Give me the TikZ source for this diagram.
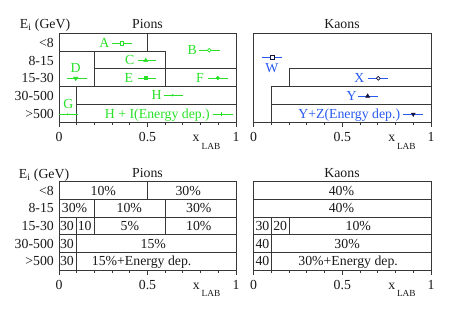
\documentclass[tikz,border=0pt]{standalone}
\usepackage{fontspec}
\setmainfont{Liberation Serif}
\definecolor{pgreen}{RGB}{40,225,40}
\definecolor{kblue}{RGB}{40,90,240}
\definecolor{frame}{RGB}{55,55,55}
\definecolor{ink}{RGB}{25,25,25}
\definecolor{kmark}{RGB}{20,20,60}
\tikzset{
  txt/.style={font=\fontsize{13.8bp}{15bp}\selectfont, text height=9.2bp, text depth=0pt, inner sep=0pt, text=ink},
  xl/.style={font=\fontsize{13.8bp}{15bp}\selectfont, inner sep=0pt, anchor=base, text=ink},
  subl/.style={font=\fontsize{9.3bp}{10bp}\selectfont, inner sep=0pt, anchor=base, text=ink},
  frm/.style={draw=frame, line width=0.9bp},
  ebar/.style={line width=0.9bp},
  msqo/.pic={\draw[line width=0.7bp, fill=white] (-1.8bp,-1.8bp) rectangle (1.8bp,1.8bp);},
  msqf/.pic={\filldraw[line width=0.5bp] (-1.7bp,-1.7bp) rectangle (1.7bp,1.7bp);},
  mcio/.pic={\draw[line width=0.7bp, fill=white] (0,0) circle (1.9bp);},
  mcif/.pic={\filldraw[line width=0.5bp] (0,0) circle (1.8bp);},
  mcis/.pic={\fill (0,0) circle (1.3bp);},
  mdot/.pic={\fill (0,0) circle (1.1bp);},
  mtru/.pic={\filldraw[line width=0.5bp] (-2bp,-1.3bp) -- (2bp,-1.3bp) -- (0,2.1bp) -- cycle;},
  mtrd/.pic={\filldraw[line width=0.5bp] (-2bp,1.3bp) -- (2bp,1.3bp) -- (0,-2.1bp) -- cycle;},
  mplus/.pic={\draw[line width=0.7bp] (-2bp,0) -- (2bp,0) (0,-2bp) -- (0,2bp);},
}
\begin{document}
\begin{tikzpicture}[x=1bp,y=-1bp]
\useasboundingbox (0,0) rectangle (449,311);
% ---------------- headers ----------------
\node[txt] (eitop) at (45,24) {E\textsubscript{i} (GeV)};
\node[txt] (piontop) at (147.5,24) {Pions};
\node[txt] (kaontop) at (342,24) {Kaons};
\node[txt] (eibot) at (44,173.5) {E\textsubscript{i} (GeV)};
\node[txt] (pionbot) at (147.5,172.7) {Pions};
\node[txt] (kaonbot) at (342,172.7) {Kaons};
% row labels top
\node[txt, anchor=east] (rt1) at (54,42.7) {<8};
\node[txt, anchor=east] (rt2) at (54,60.5) {8-15};
\node[txt, anchor=east] (rt3) at (54,78.3) {15-30};
\node[txt, anchor=east] (rt4) at (54,96) {30-500};
\node[txt, anchor=east] (rt5) at (54,113.6) {>500};
% row labels bottom
\node[txt, anchor=east] (rb1) at (54,190.5) {<8};
\node[txt, anchor=east] (rb2) at (54,208.2) {8-15};
\node[txt, anchor=east] (rb3) at (54,225.8) {15-30};
\node[txt, anchor=east] (rb4) at (54,243.5) {30-500};
\node[txt, anchor=east] (rb5) at (54,261.1) {>500};

% ================= TOP LEFT (pions) =================
\begin{scope}[xshift=59bp, x=177bp]
 \draw[frm] (0,33.3) rectangle (1,122.3);
 \draw[frm] (0.5,33.3) -- (0.5,51.1) (0,51.1) -- (0.6,51.1)
   (0.2,51.1) -- (0.2,86.7) (0.6,51.1) -- (0.6,86.7)
   (0.2,68.9) -- (1,68.9) (0,86.7) -- (1,86.7)
   (0.1,86.7) -- (0.1,122.3) (0.1,104.5) -- (1,104.5);
 \foreach \t in {0.1,0.2,0.3,0.4,0.6,0.7,0.8,0.9} \draw[frm] (\t,122.3) -- ++(0,3);
 \foreach \t in {0,0.5,1} \draw[frm] (\t,122.3) -- ++(0,5);
 \node[xl] (tla0) at (0,141.3) {0};
 \node[xl] (tla5) at (0.5,141.3) {0.5};
 \node[xl] (tla1) at (1,141.3) {1};
 \node[xl] (tlx) at (0.774,141.3) {x};
 \node[subl] (tlsub) at (0.859,149) {LAB};
 % entries
 \begin{scope}[pgreen]
 \node[txt, text=pgreen] (A) at (0.256,42.9) {A};
 \draw[ebar] (0.30,43.3) -- (0.415,43.3); \pic at (0.354,43.3) {msqo};
 \node[txt, text=pgreen] (B) at (0.753,50.2) {B};
 \draw[ebar] (0.793,50.3) -- (0.91,50.3); \pic at (0.849,50.3) {mcio};
 \node[txt, text=pgreen] (C) at (0.40,60.3) {C};
 \draw[ebar] (0.445,60.3) -- (0.546,60.3); \pic at (0.49,60.3) {mtru};
 \node[txt, text=pgreen] (D) at (0.094,67.5) {D};
 \draw[ebar] (0.043,78.5) -- (0.156,78.5); \pic at (0.094,78.5) {mtrd};
 \node[txt, text=pgreen] (E) at (0.395,77.8) {E};
 \draw[ebar] (0.445,78) -- (0.55,78); \pic at (0.49,78) {msqf};
 \node[txt, text=pgreen] (F) at (0.797,77.8) {F};
 \draw[ebar] (0.843,78) -- (0.956,78); \pic at (0.897,78) {mcif};
 \node[txt, text=pgreen] (G) at (0.053,104.3) {G};
 \draw[ebar] (0,114.3) -- (0.109,114.3); \pic at (0.049,114.3) {mdot};
 \node[txt, text=pgreen] (H) at (0.552,95.2) {H};
 \draw[ebar] (0.595,95.3) -- (0.70,95.3); \pic at (0.642,95.3) {mcis};
 \node[txt, text=pgreen] (HI) at (0.556,113.8) {H + I(Energy dep.)};
 \draw[ebar] (0.868,114.3) -- (0.981,114.3); \pic at (0.915,114.3) {mplus};
 \end{scope}
\end{scope}

% ================= TOP RIGHT (kaons) =================
\begin{scope}[xshift=253.6bp, x=177.4bp]
 \draw[frm] (0,33.3) rectangle (1,122.3);
 \draw[frm] (0.2,68.9) -- (1,68.9) (0.2,68.9) -- (0.2,86.7)
   (0.1,86.7) -- (1,86.7) (0.1,86.7) -- (0.1,122.3)
   (0.1,104.5) -- (1,104.5);
 \foreach \t in {0.1,0.2,0.3,0.4,0.6,0.7,0.8,0.9} \draw[frm] (\t,122.3) -- ++(0,3);
 \foreach \t in {0,0.5,1} \draw[frm] (\t,122.3) -- ++(0,5);
 \node[xl] (tra0) at (0,141.3) {0};
 \node[xl] (tra5) at (0.5,141.3) {0.5};
 \node[xl] (tra1) at (1,141.3) {1};
 \node[xl] (trx) at (0.779,141.3) {x};
 \node[subl] (trsub) at (0.861,149) {LAB};
 \draw[ebar, kblue] (0.05,57.3) -- (0.162,57.3); \pic[kmark] at (0.106,57.3) {msqo};
 \node[txt, text=kblue] (W) at (0.103,68.2) {W};
 \node[txt, text=kblue] (X) at (0.596,78.3) {X};
 \draw[ebar, kblue] (0.647,78.3) -- (0.76,78.3); \pic[kmark] at (0.703,78.3) {mcio};
 \node[txt, text=kblue] (Y) at (0.553,95.6) {Y};
 \draw[ebar, kblue] (0.59,96) -- (0.703,96); \pic[kmark] at (0.643,96) {mtru};
 \node[txt, text=kblue] (YZ) at (0.539,113.9) {Y+Z(Energy dep.)};
 \draw[ebar, kblue] (0.844,114.3) -- (0.957,114.3); \pic[kmark] at (0.90,114.3) {mtrd};
\end{scope}

% ================= BOTTOM LEFT (pions) =================
\begin{scope}[xshift=59bp, x=177bp]
 \draw[frm] (0,181.7) rectangle (1,269.95);
 \draw[frm] (0,199.35) -- (1,199.35) (0,217) -- (1,217)
   (0,234.65) -- (1,234.65) (0,252.3) -- (1,252.3)
   (0.5,181.7) -- (0.5,199.35) (0.2,199.35) -- (0.2,234.65)
   (0.6,199.35) -- (0.6,234.65) (0.1,217) -- (0.1,269.95);
 \foreach \t in {0.1,0.2,0.3,0.4,0.6,0.7,0.8,0.9} \draw[frm] (\t,269.95) -- ++(0,3);
 \foreach \t in {0,0.5,1} \draw[frm] (\t,269.95) -- ++(0,5);
 \node[xl] (bla0) at (0,289) {0};
 \node[xl] (bla5) at (0.5,289) {0.5};
 \node[xl] (bla1) at (1,289) {1};
 \node[xl] (blx) at (0.776,289) {x};
 \node[subl] (blsub) at (0.859,296.7) {LAB};
 \node[txt] (p11) at (0.25,190.5) {10\%};
 \node[txt] (p12) at (0.73,190.5) {30\%};
 \node[txt] (p21) at (0.088,208.2) {30\%};
 \node[txt] (p22) at (0.397,208.2) {10\%};
 \node[txt] (p23) at (0.79,208.2) {30\%};
 \node[txt] (p31) at (0.045,225.8) {30};
 \node[txt] (p32) at (0.145,225.8) {10};
 \node[txt] (p33) at (0.40,225.8) {5\%};
 \node[txt] (p34) at (0.79,225.8) {10\%};
 \node[txt] (p41) at (0.045,243.5) {30};
 \node[txt] (p42) at (0.533,243.5) {15\%};
 \node[txt] (p51) at (0.045,261.1) {30};
 \node[txt] (p52) at (0.467,261.1) {15\%+Energy dep.};
\end{scope}

% ================= BOTTOM RIGHT (kaons) =================
\begin{scope}[xshift=253.6bp, x=177.4bp]
 \draw[frm] (0,181.7) rectangle (1,269.95);
 \draw[frm] (0,199.35) -- (1,199.35) (0,217) -- (1,217)
   (0,234.65) -- (1,234.65) (0,252.3) -- (1,252.3)
   (0.1,217) -- (0.1,269.95) (0.2,217) -- (0.2,234.65);
 \foreach \t in {0.1,0.2,0.3,0.4,0.6,0.7,0.8,0.9} \draw[frm] (\t,269.95) -- ++(0,3);
 \foreach \t in {0,0.5,1} \draw[frm] (\t,269.95) -- ++(0,5);
 \node[xl] (bra0) at (0,289) {0};
 \node[xl] (bra5) at (0.5,289) {0.5};
 \node[xl] (bra1) at (1,289) {1};
 \node[xl] (brx) at (0.779,289) {x};
 \node[subl] (brsub) at (0.861,296.7) {LAB};
 \node[txt] (k11) at (0.495,190.5) {40\%};
 \node[txt] (k21) at (0.495,208.2) {40\%};
 \node[txt] (k31) at (0.05,225.8) {30};
 \node[txt] (k32) at (0.15,225.8) {20};
 \node[txt] (k33) at (0.59,225.8) {10\%};
 \node[txt] (k41) at (0.05,243.5) {40};
 \node[txt] (k42) at (0.527,243.5) {30\%};
 \node[txt] (k51) at (0.05,261.1) {40};
 \node[txt] (k52) at (0.533,261.1) {30\%+Energy dep.};
\end{scope}
\end{tikzpicture}
\end{document}
